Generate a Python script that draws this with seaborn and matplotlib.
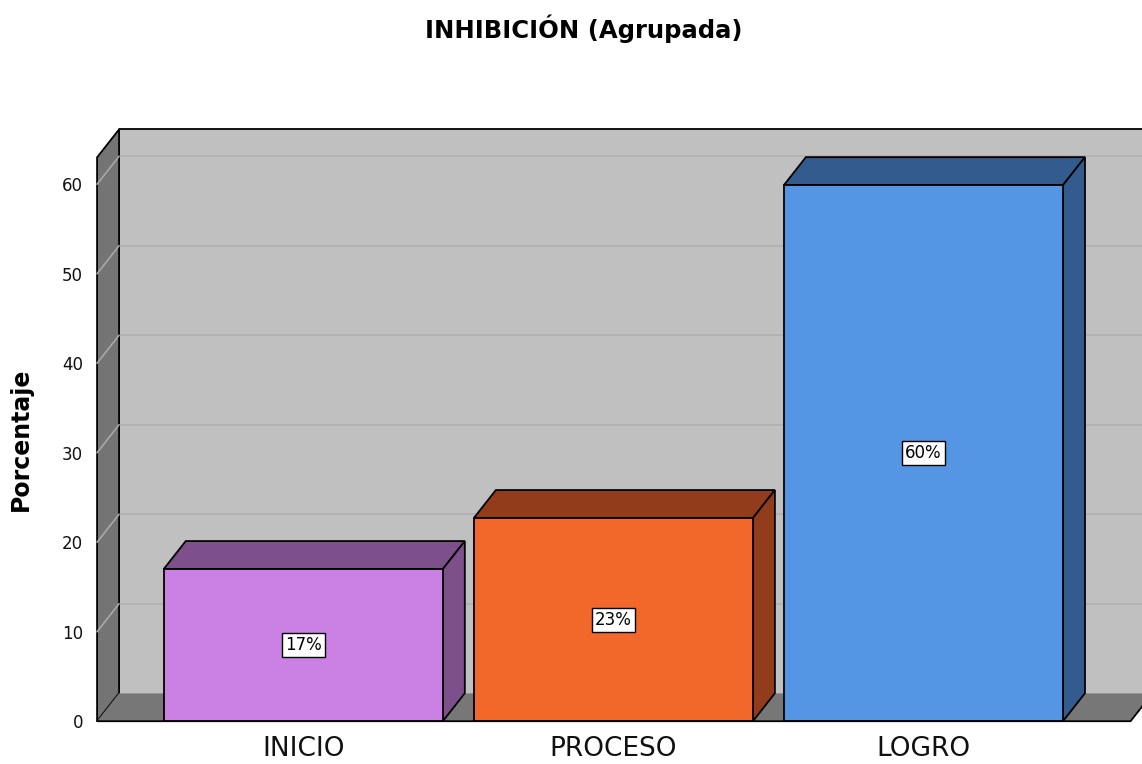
import matplotlib
matplotlib.use("Agg")
import matplotlib.pyplot as plt
import matplotlib.transforms as mtransforms
from matplotlib.patches import Polygon
from matplotlib.lines import Line2D
from matplotlib import font_manager
import seaborn as sns
import pandas as pd

categorias = ["INICIO", "PROCESO", "LOGRO"]
porcentajes = [17.0, 22.7, 59.9]
etiquetas = ["17%", "23%", "60%"]
colores_frente = ["#cb80e3", "#f2672a", "#5596e4"]
colores_sombra = ["#7d508c", "#923c1b", "#345b8d"]
marcas_y = [0, 10, 20, 30, 40, 50, 60]

sns.set_style("white")
plt.rcParams["font.family"] = ["DejaVu Sans"]
plt.rcParams["text.color"] = "black"
plt.rcParams["axes.labelcolor"] = "black"

nombres = {f.name for f in font_manager.fontManager.ttflist}
if "Liberation Sans Narrow" in nombres:
    fuente_x, tam_x = "Liberation Sans Narrow", 22
else:
    fuente_x, tam_x = "DejaVu Sans", 19

DX, DY = 22, 28  # profundidad 3D en pixeles
ident = mtransforms.IdentityTransform()

fig = plt.figure(figsize=(11.42, 7.64), dpi=100)
fig.patch.set_facecolor("white")
ax = fig.add_axes([0.085, 0.056, 0.905, 0.738])

df = pd.DataFrame({"categoria": categorias, "porcentaje": porcentajes})
sns.barplot(data=df, x="categoria", y="porcentaje", hue="categoria",
            palette=colores_frente, saturation=1, width=0.9, edgecolor="black",
            linewidth=1.3, legend=False, ax=ax, zorder=4)
ax.set_xlim(-0.665, 2.668)
ax.set_ylim(0, 63)
ax.set_facecolor("none")
for s in ax.spines.values():
    s.set_visible(False)

# paredes
(xl, yb), (xr, yt) = ax.transAxes.transform([(0, 0), (1, 1)])
fondo = [(xl + DX, yb + DY), (xr + DX, yb + DY), (xr + DX, yt + DY), (xl + DX, yt + DY)]
izq = [(xl, yb), (xl, yt), (xl + DX, yt + DY), (xl + DX, yb + DY)]
piso = [(xl, yb), (xr, yb), (xr + DX, yb + DY), (xl + DX, yb + DY)]
ax.add_patch(Polygon(fondo, transform=ident, facecolor="#c0c0c0", edgecolor="none",
                     zorder=0, clip_on=False))
ax.add_patch(Polygon(izq, transform=ident, facecolor="#747474", edgecolor="black",
                     linewidth=1.3, zorder=1, clip_on=False))
ax.add_patch(Polygon(piso, transform=ident, facecolor="#777777", edgecolor="none",
                     zorder=1, clip_on=False))

# lineas de rejilla
for t in marcas_y:
    py = ax.transData.transform((0, t))[1]
    if t > 0:
        ax.add_line(Line2D([xl + DX, xr + DX], [py + DY, py + DY], transform=ident,
                           color="#b2b2b2", linewidth=1.4, zorder=0.5, clip_on=False))
        ax.add_line(Line2D([xl, xl + DX], [py, py + DY], transform=ident,
                           color="#a8a8a8", linewidth=1.2, zorder=1.5, clip_on=False))

# bordes negros
ax.add_line(Line2D([xl + DX, xr + DX], [yt + DY, yt + DY], transform=ident,
                   color="black", linewidth=1.3, zorder=1.6, clip_on=False))
ax.add_line(Line2D([xl, xr, xr + DX], [yb, yb, yb + DY], transform=ident,
                   color="black", linewidth=1.3, zorder=1.6, clip_on=False))

# caras superior y lateral de cada barra
barras = [b for cont in ax.containers for b in cont]
for barra, sombra in zip(barras, colores_sombra):
    x0 = barra.get_x()
    x1 = x0 + barra.get_width()
    (px0, py0), (px1, py1) = ax.transData.transform([(x0, 0), (x1, barra.get_height())])
    arriba = [(px0, py1), (px1, py1), (px1 + DX, py1 + DY), (px0 + DX, py1 + DY)]
    lado = [(px1, py0), (px1, py1), (px1 + DX, py1 + DY), (px1 + DX, py0 + DY)]
    for cara in (arriba, lado):
        ax.add_patch(Polygon(cara, transform=ident, facecolor=sombra, edgecolor="black",
                             linewidth=1.3, zorder=3, clip_on=False))

# etiquetas de valor
for i, (v, txt) in enumerate(zip(porcentajes, etiquetas)):
    ax.text(i, v / 2, txt, ha="center", va="center", fontsize=12, color="black", zorder=6,
            bbox=dict(boxstyle="square,pad=0.18", facecolor="white", edgecolor="black",
                      linewidth=1.0))

ax.set_yticks(marcas_y)
ax.tick_params(axis="y", length=0, pad=10, labelsize=12, labelcolor="#111111")
ax.tick_params(axis="x", length=0, pad=11, labelsize=tam_x, labelcolor="#111111")
for lab in ax.get_xticklabels():
    lab.set_fontfamily(fuente_x)
ax.set_xlabel("")
ax.set_ylabel("Porcentaje", fontsize=17, fontweight="bold", color="black")
ax.yaxis.set_label_coords(-0.062, 0.5)

fig.text(0.511, 0.962, "INHIBICIÓN (Agrupada)", ha="center", va="center",
         fontsize=17.5, fontweight="bold", color="black")

fig.savefig("out.png", dpi=100)
